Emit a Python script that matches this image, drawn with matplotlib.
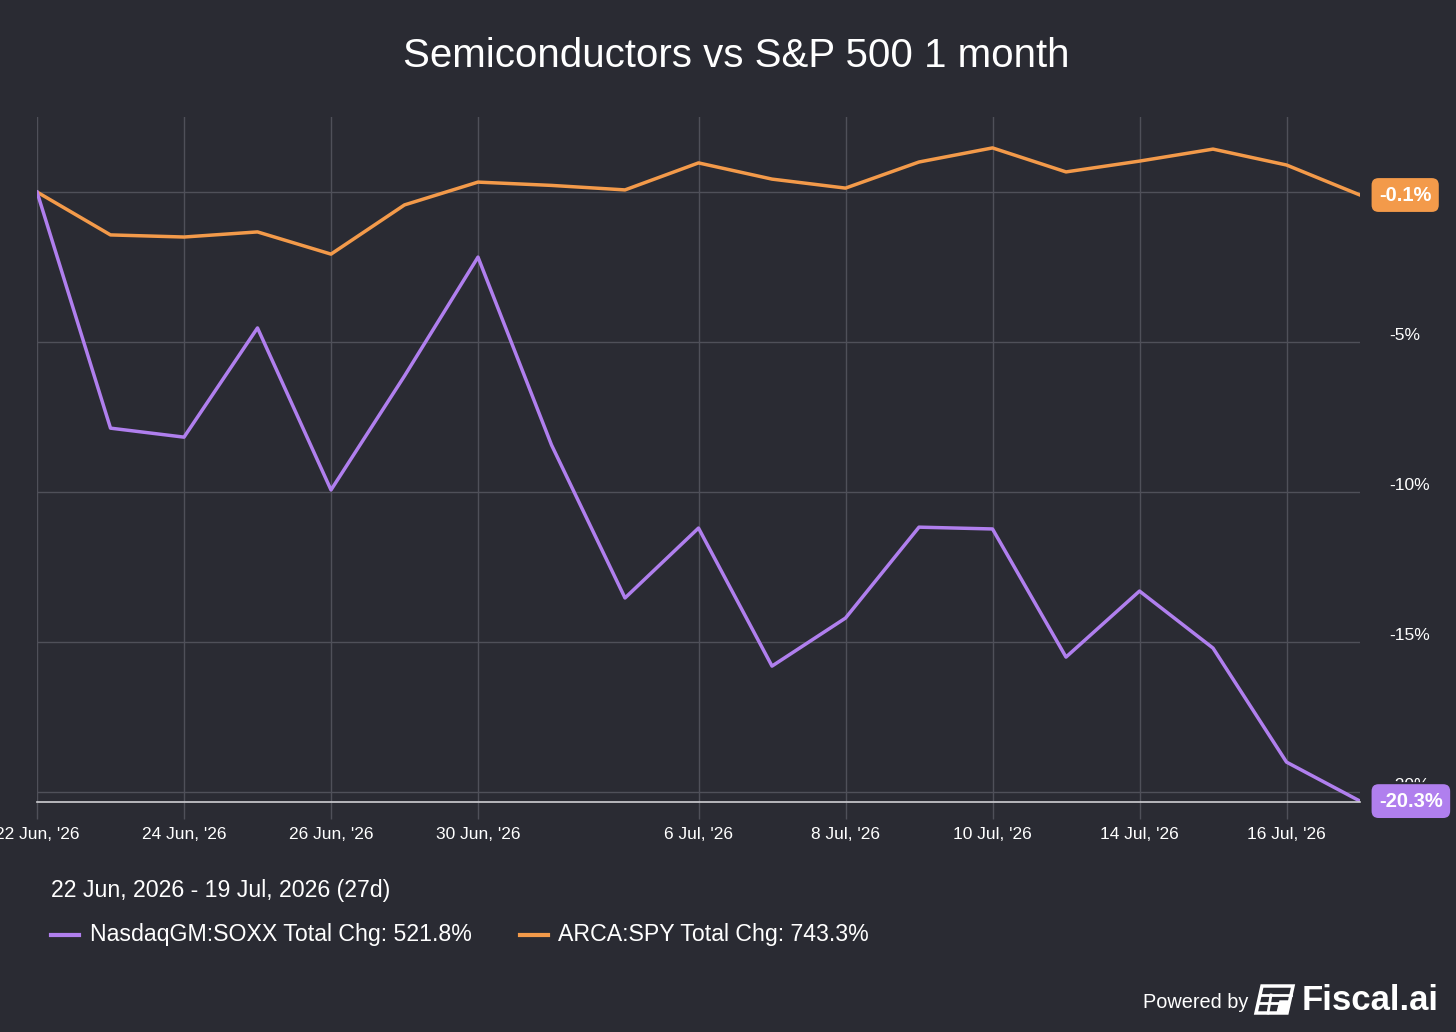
import matplotlib
matplotlib.use("Agg")
import matplotlib.pyplot as plt
from matplotlib.lines import Line2D
from matplotlib.transforms import ScaledTranslation
from matplotlib.patches import Polygon

plt.rcParams['font.family'] = ['Liberation Sans', 'DejaVu Sans']

# ---- data ----
dates = ["22 Jun", "23 Jun", "24 Jun", "25 Jun", "26 Jun", "29 Jun", "30 Jun",
         "1 Jul", "2 Jul", "6 Jul", "7 Jul", "8 Jul", "9 Jul", "10 Jul",
         "13 Jul", "14 Jul", "15 Jul", "16 Jul", "17 Jul"]
soxx = [0.0, -7.87, -8.17, -4.53, -9.93, -6.13, -2.17, -8.43, -13.53, -11.2,
        -15.8, -14.2, -11.17, -11.23, -15.5, -13.3, -15.2, -19.0, -20.3]
spy = [0.0, -1.43, -1.5, -1.33, -2.07, -0.43, 0.33, 0.22, 0.07, 0.97,
       0.43, 0.13, 1.0, 1.47, 0.67, 1.03, 1.43, 0.9, -0.1]
tick_idx = [0, 2, 4, 6, 9, 11, 13, 15, 17]
tick_labels = ["22 Jun, '26", "24 Jun, '26", "26 Jun, '26", "30 Jun, '26",
               "6 Jul, '26", "8 Jul, '26", "10 Jul, '26", "14 Jul, '26", "16 Jul, '26"]
y_ticks = [0, -5, -10, -15, -20]
y_tick_labels = ["", "-5%", "-10%", "-15%", "-20%"]
title = "Semiconductors vs S&P 500 1 month"
date_range = "22 Jun, 2026 - 19 Jul, 2026 (27d)"
series_names = ["NasdaqGM:SOXX Total Chg: 521.8%", "ARCA:SPY Total Chg: 743.3%"]

BG = "#2a2b33"
PURPLE = "#b07fee"
ORANGE = "#f39a4a"
GRID = "#4f5059"
TEXT = "#ffffff"

W, H = 1456, 1032
fig = plt.figure(figsize=(W / 100, H / 100), dpi=100, facecolor=BG)
ax = fig.add_axes([37 / W, 1 - 802 / H, (1360 - 37) / W, (802 - 117) / H])
ax.set_facecolor(BG)

x = list(range(len(dates)))
ax.plot(x, spy, color=ORANGE, lw=2.5, solid_joinstyle='round', zorder=3)
ax.plot(x, soxx, color=PURPLE, lw=2.5, solid_joinstyle='round', zorder=3)

ax.set_xlim(0, len(dates) - 1)
ax.set_ylim(-20.33, 2.5)

for s in ['top', 'left', 'right']:
    ax.spines[s].set_visible(False)
ax.spines['bottom'].set_color("#cfcfd3")
ax.spines['bottom'].set_linewidth(1.2)
ax.spines['bottom'].set_zorder(4)

ax.set_xticks(tick_idx)
ax.set_xticklabels(tick_labels, color=TEXT, fontsize=12.5)
ax.tick_params(axis='x', length=12, color=GRID, width=1, pad=6)
ax.grid(True, axis='both', color=GRID, lw=1, zorder=1)

ax.yaxis.tick_right()
ax.set_yticks(y_ticks)
ax.set_yticklabels(y_tick_labels, color=TEXT, fontsize=12.5)
ax.tick_params(axis='y', length=0, pad=21)
off = ScaledTranslation(0, 0.085, fig.dpi_scale_trans)
for lab in ax.get_yticklabels():
    lab.set_transform(lab.get_transform() + off)
    lab.set_horizontalalignment('left')

# end-value badges
for vals, col in [(spy, ORANGE), (soxx, PURPLE)]:
    v = vals[-1]
    ax.annotate(f"{v:.1f}%", xy=(len(vals) - 1, v), xytext=(19, 0),
                textcoords='offset pixels', ha='left', va='center',
                color=TEXT, fontsize=14.5, fontweight='bold',
                annotation_clip=False, zorder=6,
                bbox=dict(boxstyle="round,pad=0.42,rounding_size=0.4",
                          fc=col, ec=BG, lw=1.5))

fig.text(736 / W, 1 - 56 / H, title, ha='center', va='center',
         color=TEXT, fontsize=29)

fig.text(51 / W, 1 - 891 / H, date_range, ha='left', va='center',
         color=TEXT, fontsize=16.7)

for (x0, x1, tx), col, name in zip([(51, 79, 90), (520, 548, 558)],
                                   [PURPLE, ORANGE], series_names):
    fig.add_artist(Line2D([x0 / W, x1 / W], [1 - 935 / H, 1 - 935 / H],
                          color=col, lw=3, transform=fig.transFigure))
    fig.text(tx / W, 1 - 935 / H, name, ha='left', va='center',
             color=TEXT, fontsize=16.7)

# footer
fig.text(1248 / W, 1 - 1003 / H, "Powered by", ha='right', va='center',
         color=TEXT, fontsize=14.3)
fig.text(1302 / W, 1 - 1000 / H, "Fiscal.ai", ha='left', va='center',
         color=TEXT, fontsize=25, fontweight='bold')
# simple logo glyph (slanted grid)
def P(px, py):
    return (px / W, 1 - py / H)
fig.add_artist(Polygon([P(1262, 986), P(1293, 986), P(1287, 1013), P(1256, 1013)],
                       closed=True, fill=False, ec=TEXT, lw=2.5,
                       transform=fig.transFigure))
fig.add_artist(Line2D([1260 / W, 1291 / W], [1 - 995 / H, 1 - 995 / H],
                      color=TEXT, lw=2, transform=fig.transFigure))
fig.add_artist(Line2D([1258 / W, 1282 / W], [1 - 1003 / H, 1 - 1003 / H],
                      color=TEXT, lw=2, transform=fig.transFigure))
fig.add_artist(Line2D([1271 / W, 1268 / W], [1 - 995 / H, 1 - 1013 / H],
                      color=TEXT, lw=2, transform=fig.transFigure))
fig.add_artist(Polygon([P(1280, 1001), P(1290, 1001), P(1287, 1013), P(1277, 1013)],
                       closed=True, fc=TEXT, ec=TEXT, lw=1,
                       transform=fig.transFigure))

fig.savefig("out.png", dpi=100, facecolor=BG)
